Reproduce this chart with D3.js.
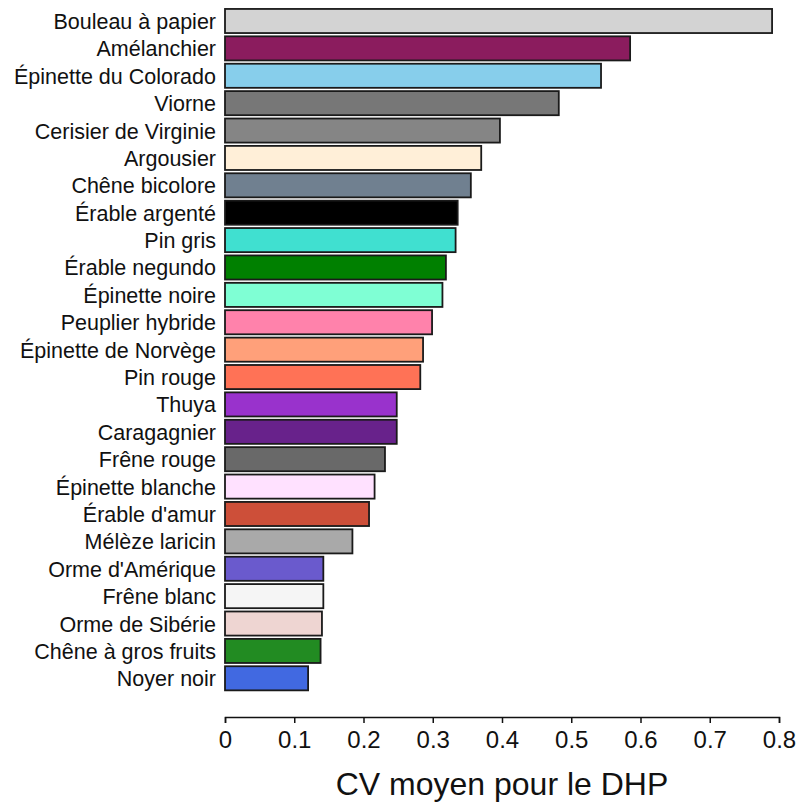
<!DOCTYPE html>
<html lang="fr">
<head>
  <meta charset="UTF-8" />
  <title>CV moyen pour le DHP</title>
  <script src="https://cdn.jsdelivr.net/npm/d3@7"></script>
  <style>
    body { margin: 0; background: #fff; }
    svg { display: block; font-family: "Liberation Sans", Arial, sans-serif; }
  </style>
</head>
<body>
<script>
    // espèces, de haut en bas
    var species = [
        "Bouleau à papier", "Amélanchier", "Épinette du Colorado", "Viorne",
        "Cerisier de Virginie", "Argousier", "Chêne bicolore", "Érable argenté",
        "Pin gris", "Érable negundo", "Épinette noire", "Peuplier hybride",
        "Épinette de Norvège", "Pin rouge", "Thuya", "Caragagnier",
        "Frêne rouge", "Épinette blanche", "Érable d'amur", "Mélèze laricin",
        "Orme d'Amérique", "Frêne blanc", "Orme de Sibérie", "Chêne à gros fruits",
        "Noyer noir"
    ];
    var cvValues = [
        0.790, 0.585, 0.543, 0.482,
        0.397, 0.370, 0.355, 0.336,
        0.333, 0.319, 0.314, 0.299,
        0.286, 0.282, 0.248, 0.248,
        0.231, 0.216, 0.208, 0.184,
        0.142, 0.142, 0.140, 0.138,
        0.120
    ];
    var barColors = [
        "#d3d3d3", "#8b1c5e", "#87ceeb", "#777777",
        "#858585", "#ffefd8", "#708090", "#000000",
        "#40e0d0", "#008000", "#7fffd4", "#ff82ab",
        "#ffa07a", "#ff7256", "#9932cc", "#68228b",
        "#696969", "#ffe1ff", "#cd4f39", "#a9a9a9",
        "#6a5acd", "#f5f5f5", "#eed5d2", "#228b22",
        "#4169e1"
    ];
    var xTicks = [0, 0.1, 0.2, 0.3, 0.4, 0.5, 0.6, 0.7, 0.8];
    var xTitle = "CV moyen pour le DHP";

    var width = 799, height = 806;
    var svg = d3.select("body").append("svg")
        .attr("width", width).attr("height", height);

    var x = d3.scaleLinear().domain([0, 0.8]).range([225, 779]);
    var y = d3.scaleBand().domain(species)
        .range([7.3, 692])
        .paddingInner(0.12).paddingOuter(0.06);

    // barres
    svg.append("g").selectAll("rect")
        .data(species)
        .enter()
        .append("rect")
        .attr("x", x(0))
        .attr("y", function(d) { return y(d); })
        .attr("width", function(d, i) { return x(cvValues[i]) - x(0); })
        .attr("height", y.bandwidth())
        .attr("fill", function(d, i) { return barColors[i]; })
        .attr("stroke", "#1a1a1a")
        .attr("stroke-width", 1.8);

    // noms des espèces
    svg.append("g").selectAll("text")
        .data(species)
        .enter()
        .append("text")
        .attr("x", 216)
        .attr("y", function(d) { return y(d) + y.bandwidth() / 2 + 8; })
        .attr("text-anchor", "end")
        .attr("font-size", "21.5px")
        .attr("fill", "#111")
        .text(function(d) { return d; });

    // axe x
    var xAxis = d3.axisBottom(x)
        .tickValues(xTicks)
        .tickFormat(function(d) { return d === 0 ? "0" : d3.format(".1f")(d); })
        .tickSizeOuter(0)
        .tickSize(6)
        .tickPadding(8);
    var ax = svg.append("g")
        .attr("transform", "translate(0,717)")
        .call(xAxis);
    ax.select(".domain").attr("stroke", "#111").attr("stroke-width", 1.5);
    ax.selectAll(".tick line").attr("stroke", "#111").attr("stroke-width", 1.5)
        .attr("y1", 0).attr("y2", 6);
    ax.selectAll(".tick text")
        .attr("font-size", "24px")
        .attr("font-family", "'Liberation Sans', Arial, sans-serif")
        .attr("fill", "#111");

    svg.append("text")
        .attr("x", (x(0) + x(0.8)) / 2)
        .attr("y", 795)
        .attr("text-anchor", "middle")
        .attr("font-size", "32px")
        .attr("fill", "#111")
        .text(xTitle);
</script>
</body>
</html>
